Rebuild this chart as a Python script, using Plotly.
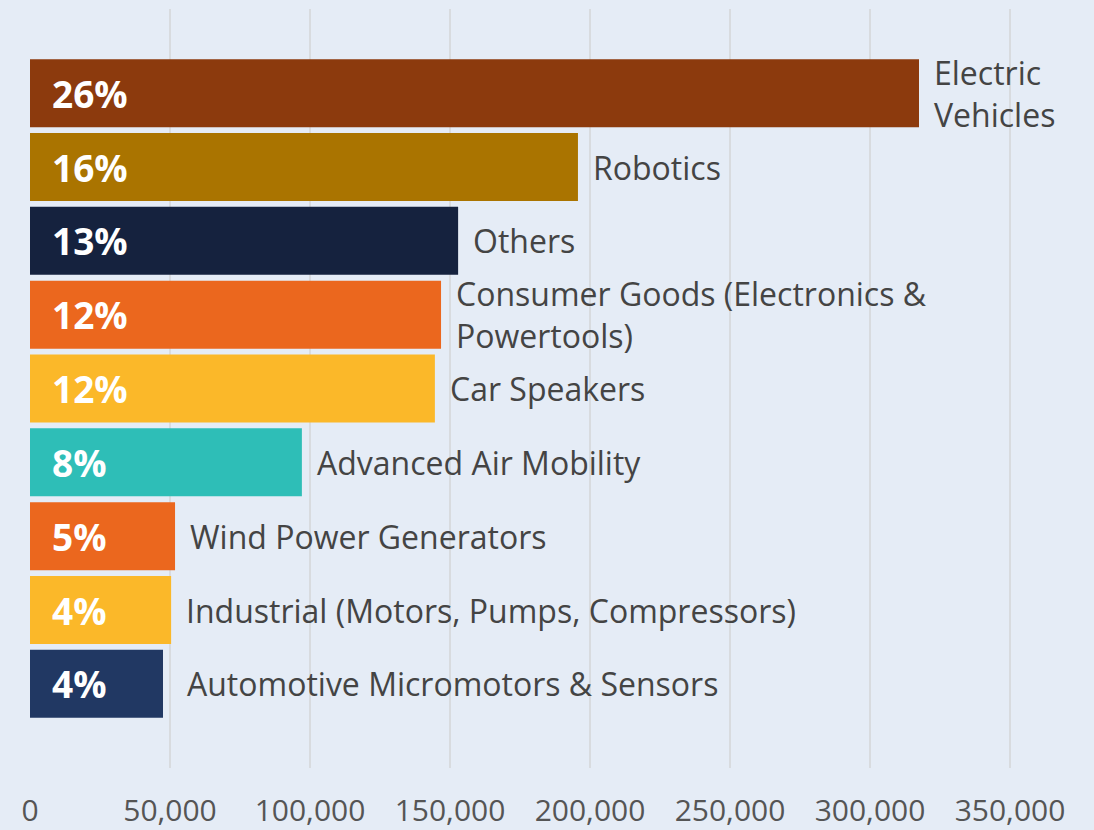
import plotly.graph_objects as go

categories = [
    "Electric<br>Vehicles",
    "Robotics",
    "Others",
    "Consumer Goods (Electronics &<br>Powertools)",
    "Car Speakers",
    "Advanced Air Mobility",
    "Wind Power Generators",
    "Industrial (Motors, Pumps, Compressors)",
    "Automotive Micromotors & Sensors",
]
values = [317500, 195700, 152900, 146800, 144600, 97100, 51800, 50400, 47500]
percent_labels = ["26%", "16%", "13%", "12%", "12%", "8%", "5%", "4%", "4%"]
colors = ["#8C3A0D", "#AA7400", "#15223E", "#EB671E", "#FBB829",
          "#2EBEB7", "#EB671E", "#FBB829", "#213863"]
label_extra_shift = [0, 0, 0, 0, 0, 0, 0, 0, 9]
tick_values = [0, 50000, 100000, 150000, 200000, 250000, 300000, 350000]
tick_text = ["0", "50,000", "100,000", "150,000", "200,000", "250,000", "300,000", "350,000"]

keys = [f"c{i}" for i in range(len(categories))]

fig = go.Figure(
    go.Bar(
        x=values,
        y=keys,
        orientation="h",
        marker=dict(color=colors, line=dict(width=0)),
        hoverinfo="skip",
    )
)

annotations = []
for k, v, cat, pct, extra in zip(keys, values, categories, percent_labels, label_extra_shift):
    annotations.append(dict(
        x=v, y=k, xref="x", yref="y", text=cat, showarrow=False,
        xanchor="left", yanchor="middle", xshift=13 + extra, align="left",
        font=dict(family="Open Sans", size=32, color="#444444"),
    ))
    annotations.append(dict(
        x=0, y=k, xref="x", yref="y", text=f"<b>{pct}</b>", showarrow=False,
        xanchor="left", yanchor="middle", xshift=20, align="left",
        font=dict(family="Open Sans", size=37, color="#FFFFFF"),
    ))

fig.update_layout(
    width=1094, height=830,
    margin=dict(l=30, r=0, t=9, b=62, autoexpand=False),
    paper_bgcolor="#E5ECF6",
    plot_bgcolor="#E5ECF6",
    bargap=0.08,
    showlegend=False,
    annotations=annotations,
    xaxis=dict(
        range=[0, 380000],
        tickvals=tick_values, ticktext=tick_text,
        showgrid=True, gridcolor="#D8DBDF", gridwidth=2,
        zeroline=False, showline=False, automargin=False,
        ticks="", ticklabelstandoff=22,
        tickfont=dict(family="Open Sans", size=30, color="#555555"),
    ),
    yaxis=dict(
        categoryorder="array", categoryarray=keys,
        range=[8 + 1.14, -1.14], automargin=False,
        showticklabels=False, showgrid=False, zeroline=False, ticks="",
    ),
)

fig.write_html(
    "out.html",
    config={"displayModeBar": False},
    post_script="document.body.style.margin='0';document.body.style.background='#E5ECF6';",
)
